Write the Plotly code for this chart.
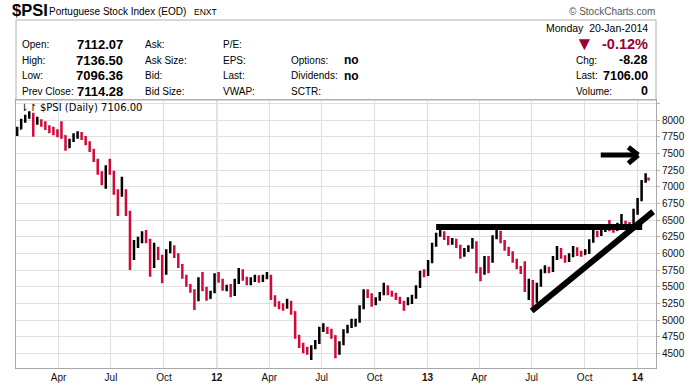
import plotly.graph_objects as go
import pandas as pd

# ---------------- data (weekly bars) ----------------
week_dates = list(pd.date_range("2011-01-19", periods=157, freq="7D").strftime("%Y-%m-%d")) + ["2014-01-20"]

opens = [7790, 7870, 7990, 8040, 8090, 7960, 7990, 7940, 7880, 7860, 7820, 7790, 7760, 7590, 7690, 7760,
         7790, 7740, 7650, 7550, 7400, 7200, 7060, 7280, 7220, 6920, 6880, 6920, 6620, 5950, 6130, 6190,
         6280, 6200, 5800, 6080, 5950, 5700, 6020, 6090, 5980, 5820, 5660, 5520, 5440, 5300, 5600, 5480,
         5330, 5420, 5650, 5600, 5470, 5490, 5380, 5560, 5720, 5620, 5560, 5590, 5630, 5600, 5640, 5660,
         5350, 5240, 5200, 5190, 5270, 5120, 4760, 4620, 4540, 4520, 4580, 4660, 4850, 4880, 4840, 4760,
         4500, 4640, 4830, 4900, 4960, 4980, 5180, 5420, 5370, 5250, 5310, 5390, 5500, 5410, 5390, 5330,
         5270, 5250, 5300, 5340, 5500, 5700, 5680, 5870, 6120, 6280, 6300, 6240, 6160, 6180, 6110, 5970,
         6050, 6090, 6160, 5750, 5700, 5900, 5880, 6230, 6310, 6180, 6070, 6000, 5900, 5790, 5730, 5480,
         5560, 5280, 5520, 5720, 5770, 5740, 5920, 6060, 5950, 5900, 5960, 6070, 6000, 5990, 6030, 6180,
         6310, 6280, 6340, 6380, 6360, 6350, 6430, 6470, 6440, 6430, 6620, 6800, 7080, 7112.07]
highs = [7900, 8020, 8080, 8130, 8110, 8050, 8010, 7980, 7920, 7900, 7860, 7980, 7770, 7720, 7800, 7830,
         7820, 7760, 7680, 7570, 7420, 7230, 7320, 7420, 7240, 6960, 7150, 6960, 6640, 6200, 6250, 6330,
         6350, 6220, 6160, 6100, 5980, 6060, 6180, 6120, 6000, 5840, 5680, 5540, 5460, 5640, 5720, 5500,
         5440, 5700, 5720, 5620, 5530, 5540, 5620, 5780, 5760, 5650, 5640, 5680, 5670, 5680, 5720, 5680,
         5370, 5280, 5250, 5320, 5290, 5130, 4780, 4660, 4600, 4620, 4700, 4900, 4950, 4900, 4870, 4770,
         4680, 4860, 4930, 5020, 5020, 5220, 5460, 5460, 5400, 5340, 5420, 5560, 5520, 5440, 5410, 5350,
         5290, 5340, 5380, 5520, 5740, 5760, 5900, 6160, 6310, 6400, 6330, 6260, 6230, 6220, 6130, 6080,
         6120, 6230, 6180, 5790, 5960, 5960, 6270, 6400, 6340, 6200, 6100, 6030, 5920, 5810, 5880, 5620,
         5600, 5560, 5760, 5820, 5800, 5960, 6110, 6080, 5970, 6000, 6110, 6090, 6040, 6060, 6210, 6360,
         6340, 6380, 6420, 6500, 6400, 6460, 6590, 6490, 6470, 6670, 6830, 7100, 7200, 7136.50]
lows = [7760, 7860, 7960, 8020, 7750, 7930, 7900, 7850, 7800, 7770, 7740, 7720, 7540, 7580, 7670, 7720,
        7700, 7620, 7520, 7370, 7180, 7020, 6970, 7180, 6880, 6560, 6850, 6560, 5750, 5900, 6080, 6150,
        6150, 5650, 5780, 5900, 5550, 5680, 6000, 5930, 5780, 5620, 5500, 5410, 5150, 5280, 5430, 5290,
        5320, 5400, 5560, 5440, 5430, 5340, 5360, 5540, 5590, 5520, 5520, 5570, 5560, 5570, 5610, 5300,
        5200, 5160, 5140, 5170, 5080, 4720, 4580, 4500, 4480, 4400, 4560, 4640, 4820, 4790, 4720, 4425,
        4480, 4620, 4800, 4880, 4900, 4960, 5160, 5330, 5200, 5220, 5290, 5370, 5370, 5350, 5300, 5240,
        5140, 5220, 5240, 5320, 5480, 5640, 5660, 5850, 6100, 6250, 6200, 6120, 6130, 6080, 5920, 5950,
        6020, 6070, 5700, 5580, 5680, 5700, 5860, 6210, 6150, 6040, 5960, 5860, 5760, 5690, 5420, 5300,
        5200, 5260, 5500, 5700, 5700, 5720, 5900, 5920, 5860, 5870, 5940, 5960, 5950, 5980, 5990, 6160,
        6240, 6260, 6320, 6330, 6310, 6340, 6420, 6400, 6390, 6420, 6580, 6780, 7060, 7096.36]
closes = [7870, 7990, 8040, 8090, 7960, 7990, 7940, 7880, 7860, 7820, 7790, 7760, 7590, 7690, 7760, 7790,
          7740, 7650, 7550, 7400, 7200, 7060, 7280, 7220, 6920, 6880, 6920, 6620, 5950, 6130, 6190, 6280,
          6200, 5800, 6080, 5950, 5700, 6020, 6090, 5980, 5820, 5660, 5520, 5440, 5300, 5600, 5480, 5330,
          5420, 5650, 5600, 5470, 5490, 5380, 5560, 5720, 5620, 5560, 5590, 5630, 5600, 5640, 5660, 5350,
          5240, 5200, 5190, 5270, 5120, 4760, 4620, 4540, 4520, 4580, 4660, 4850, 4880, 4840, 4760, 4500,
          4640, 4830, 4900, 4960, 4980, 5180, 5420, 5370, 5250, 5310, 5390, 5500, 5410, 5390, 5330, 5270,
          5250, 5300, 5340, 5500, 5700, 5680, 5870, 6120, 6280, 6300, 6240, 6160, 6180, 6110, 5970, 6050,
          6090, 6160, 5750, 5700, 5900, 5880, 6230, 6310, 6180, 6070, 6000, 5900, 5790, 5730, 5480, 5560,
          5280, 5520, 5720, 5770, 5740, 5920, 6060, 5950, 5900, 5960, 6070, 6000, 5990, 6030, 6180, 6310,
          6280, 6340, 6380, 6360, 6350, 6430, 6470, 6440, 6430, 6620, 6800, 7080, 7114.28, 7106.00]

x_tick_dates = ["2011-04-01", "2011-07-01", "2011-10-01", "2012-01-01", "2012-04-01", "2012-07-01",
                "2012-10-01", "2013-01-01", "2013-04-01", "2013-07-01", "2013-10-01", "2014-01-01"]
x_tick_labels = ["Apr", "Jul", "Oct", "<b>12</b>", "Apr", "Jul", "Oct", "<b>13</b>", "Apr", "Jul", "Oct", "<b>14</b>"]
year_lines = ["2012-01-01", "2013-01-01", "2014-01-01"]
y_tick_vals = [4500, 4750, 5000, 5250, 5500, 5750, 6000, 6250, 6500, 6750, 7000, 7250, 7500, 7750, 8000, 8250]
y_tick_text = ["4500", "4750", "5000", "5250", "5500", "5750", "6000", "6250", "6500", "6750", "7000",
               "7250", "7500", "7750", "8000", ""]

# ---------------- layout helpers ----------------
W, H = 700, 385
PX0, PX1, PY0, PY1 = 16, 656, 100, 368
def px(x):
    return (x - PX0) / (PX1 - PX0)
def py(y):
    return (PY1 - y) / (PY1 - PY0)

RED = "#d20a3a"
MAROON = "#990033"
FONT = "Liberation Sans, Arial, sans-serif"

fig = go.Figure()
fig.add_trace(go.Ohlc(
    x=week_dates, open=opens, high=highs, low=lows, close=closes,
    increasing=dict(line=dict(color="#000000", width=2.5)),
    decreasing=dict(line=dict(color=RED, width=2.5)),
    tickwidth=0.4, hoverinfo="skip",
))

shapes = []
for d in year_lines:
    shapes.append(dict(type="line", xref="x", yref="paper", x0=d, x1=d, y0=0, y1=1,
                       line=dict(color="#b4b4b4", width=1), layer="below"))
shapes.append(dict(type="rect", xref="paper", yref="paper", x0=px(16), x1=px(656), y0=py(100), y1=py(20),
                   line=dict(color="#b0b0b0", width=1), fillcolor="rgba(0,0,0,0)"))
# hand drawn annotations
shapes.append(dict(type="line", xref="x", yref="y", x0="2013-01-16", x1="2014-01-09", y0=6395, y1=6395,
                   line=dict(color="black", width=6)))
shapes.append(dict(type="line", xref="x", yref="y", x0="2013-07-01", x1="2014-01-28", y0=5135, y1=6625,
                   line=dict(color="black", width=6)))
shapes.append(dict(type="line", xref="x", yref="y", x0="2013-10-29", x1="2014-01-01", y0=7475, y1=7475,
                   line=dict(color="black", width=5)))
shapes.append(dict(type="line", xref="x", yref="y", x0="2013-12-16", x1="2014-01-02", y0=7590, y1=7475,
                   line=dict(color="black", width=5)))
shapes.append(dict(type="line", xref="x", yref="y", x0="2013-12-16", x1="2014-01-02", y0=7350, y1=7475,
                   line=dict(color="black", width=5)))

ann = []
def text(x, y, s, size=10, color="#000", anchor="left", family=FONT, bold=False):
    if bold:
        s = "<b>" + s + "</b>"
    ann.append(dict(xref="paper", yref="paper", x=px(x), y=py(y), text=s, showarrow=False,
                    xanchor=anchor, yanchor="middle", font=dict(size=size, color=color, family=family),
                    borderpad=0))

text(11, 10, "$PSI", size=16.5, bold=True)
text(48, 11, "Portuguese Stock Index (EOD)", size=10)
text(193, 12, "ENXT", size=8.5)
text(656, 12, "© StockCharts.com", size=10, color="#555", anchor="right")

rows_y = [44, 60, 76, 91]
for lab, val, y in zip(["Open:", "High:", "Low:", "Prev Close:"],
                       ["7112.07", "7136.50", "7096.36", "7114.28"], rows_y):
    text(21, y, lab)
    text(124, y, val, size=13, bold=True, anchor="right")
for lab, y in zip(["Ask:", "Ask Size:", "Bid:", "Bid Size:"], rows_y):
    text(144, y, lab)
for lab, y in zip(["P/E:", "EPS:", "Last:", "VWAP:"], rows_y):
    text(222, y, lab)
for lab, y in zip(["Options:", "Dividends:", "SCTR:"], rows_y[1:]):
    text(290, y, lab)
text(343, 60, "no", size=12, bold=True)
text(343, 76, "no", size=12, bold=True)

text(649, 28, "Monday&nbsp;&nbsp;20-Jan-2014", size=10.5, anchor="right")
text(584, 43, "▼", size=19, color=MAROON, anchor="center")
text(649, 44, "-0.12%", size=14.5, color=MAROON, bold=True, anchor="right")
text(575, 60, "Chg:")
text(649, 60, "-8.28", size=12.5, bold=True, anchor="right")
text(575, 76, "Last:")
text(649, 76, "7106.00", size=12.5, bold=True, anchor="right")
text(575, 91, "Volume:")
text(649, 91, "0", size=12.5, bold=True, anchor="right")

text(19, 107, "⇂↾ $PSI (Daily) 7106.00", size=10, family="DejaVu Sans, sans-serif")

fig.update_layout(
    width=W, height=H, autosize=False,
    margin=dict(l=PX0, r=W - PX1, t=PY0, b=H - PY1, pad=0),
    paper_bgcolor="white", plot_bgcolor="white",
    showlegend=False,
    shapes=shapes, annotations=ann,
    xaxis=dict(
        type="date", range=["2011-01-17", "2014-02-02"], automargin=False,
        rangeslider=dict(visible=False),
        tickmode="array", tickvals=x_tick_dates, ticktext=x_tick_labels,
        showgrid=True, gridcolor="#e0e0e0", gridwidth=1,
        showline=True, linecolor="#a8a8a8", mirror=True,
        ticks="", tickfont=dict(size=10, color="#111", family=FONT),
        zeroline=False,
    ),
    yaxis=dict(
        side="right", range=[4280, 8300], automargin=False,
        tickmode="array", tickvals=y_tick_vals, ticktext=y_tick_text,
        showgrid=True, gridcolor="#e0e0e0", gridwidth=1,
        showline=True, linecolor="#a8a8a8", mirror=True,
        ticks="outside", ticklen=3, tickcolor="#b0b0b0",
        tickfont=dict(size=10, color="#111", family=FONT),
        zeroline=False,
    ),
)

fig.write_html("out.html", config={"displayModeBar": False},
               post_script="document.body.style.margin='0';document.body.style.overflow='hidden';")
